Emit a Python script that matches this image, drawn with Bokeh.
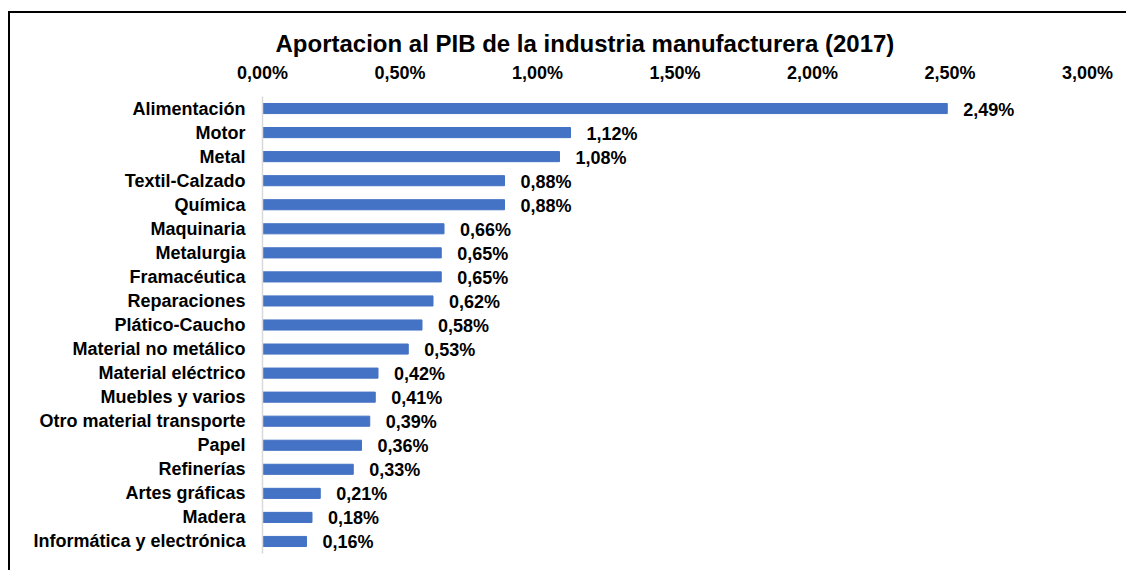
from bokeh.plotting import figure
from bokeh.models import ColumnDataSource, CustomJSTickFormatter, FixedTicker
from bokeh.core.properties import value
from bokeh.embed import file_html
from bokeh.resources import INLINE

categories = ["Alimentación", "Motor", "Metal", "Textil-Calzado", "Química", "Maquinaria",
              "Metalurgia", "Framacéutica", "Reparaciones", "Plático-Caucho",
              "Material no metálico", "Material eléctrico", "Muebles y varios",
              "Otro material transporte", "Papel", "Refinerías", "Artes gráficas",
              "Madera", "Informática y electrónica"]
values = [2.49, 1.12, 1.08, 0.88, 0.88, 0.66, 0.65, 0.65, 0.62, 0.58,
          0.53, 0.42, 0.41, 0.39, 0.36, 0.33, 0.21, 0.18, 0.16]
tick_values = [0, 0.5, 1.0, 1.5, 2.0, 2.5, 3.0]
title_text = "Aportacion al PIB de la industria manufacturera (2017)"

FONT = "Liberation Sans"

labels = [f"{v:.2f}".replace(".", ",") + "%" for v in values]
src = ColumnDataSource(dict(cat=categories, val=values, lab=labels))

p = figure(width=1118, height=559, output_backend="svg", toolbar_location=None,
           y_range=list(reversed(categories)), x_range=(0, 3.0),
           x_axis_location="above",
           min_border_left=252, min_border_right=41, min_border_top=83, min_border_bottom=19)
p.margin = (11, 0, 0, 8)
p.styles = {"border-left": "2px solid black", "border-top": "2px solid black"}

p.title.text = title_text
p.title.align = "left"
p.title.offset = 13
p.title.text_font = FONT
p.title.text_font_size = "24px"
p.title.text_font_style = "bold"
p.title.text_color = "black"
p.title.standoff = 5

p.hbar(y="cat", right="val", left=0, height=0.42, source=src, color="#4472C4")
p.text(x="val", y="cat", text="lab", source=src, x_offset=16, y_offset=1,
       text_align="left", text_baseline="middle", text_font=value(FONT),
       text_font_size="18px", text_font_style="bold", text_color="black")

xa = p.xaxis[0]
xa.ticker = FixedTicker(ticks=tick_values)
xa.formatter = CustomJSTickFormatter(code="return tick.toFixed(2).replace('.', ',') + '%';")
xa.axis_line_color = None
xa.major_tick_line_color = None
xa.minor_tick_line_color = None
xa.major_tick_out = 0
xa.major_tick_in = 0
xa.minor_tick_out = 0
xa.major_label_standoff = 14
xa.major_label_text_font = FONT
xa.major_label_text_font_size = "18px"
xa.major_label_text_font_style = "bold"
xa.major_label_text_color = "black"

ya = p.yaxis[0]
ya.axis_line_color = "#d9d9d9"
ya.axis_line_width = 1.5
ya.major_tick_line_color = None
ya.minor_tick_line_color = None
ya.major_tick_out = 0
ya.major_tick_in = 0
ya.major_label_standoff = 17
ya.major_label_text_font = FONT
ya.major_label_text_font_size = "18px"
ya.major_label_text_font_style = "bold"
ya.major_label_text_color = "black"

p.xgrid.visible = False
p.ygrid.visible = False
p.outline_line_color = None
p.y_range.range_padding = 0

open("out.html", "w").write(file_html(p, INLINE))
